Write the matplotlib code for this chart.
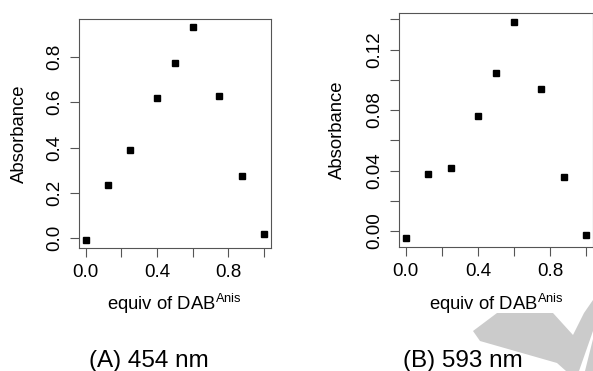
import matplotlib
matplotlib.use("Agg")
import matplotlib.pyplot as plt
from matplotlib.patches import Polygon
from matplotlib.ticker import FixedLocator

plt.rcParams['font.family'] = ['Liberation Sans', 'DejaVu Sans']
plt.rcParams['mathtext.fontset'] = 'custom'
plt.rcParams['mathtext.rm'] = 'Liberation Sans'

# data
equiv = [0.0, 0.125, 0.25, 0.4, 0.5, 0.6, 0.75, 0.875, 1.0]
abs_454 = [-0.006, 0.236, 0.391, 0.620, 0.775, 0.930, 0.627, 0.274, 0.018]
abs_593 = [-0.0046, 0.0379, 0.0418, 0.0762, 0.1048, 0.1383, 0.0940, 0.0361, -0.0026]

x_major = [0.0, 0.4, 0.8]
x_minor = [0.2, 0.6, 1.0]
y_major_a = [0.0, 0.2, 0.4, 0.6, 0.8]
y_major_b = [0.0, 0.04, 0.08, 0.12]
y_minor_b = [0.02, 0.06, 0.10, 0.14]

W, H = 593, 371
fig = plt.figure(figsize=(W / 100, H / 100), dpi=100)

# grey watermark pieces in the lower right corner (pixel coords, y down)
shapes = [
    [(473, 331), (497, 313), (553, 313), (573, 335), (584, 313), (593, 300),
     (593, 331), (579, 371), (566, 371), (557, 363), (480, 341)],
    [(593, 339), (593, 371), (585, 371)],
]
for shape in shapes:
    fig.add_artist(Polygon([(x / W, 1 - y / H) for x, y in shape], closed=True,
                           transform=fig.transFigure, facecolor='#cbcbcb',
                           edgecolor='none', zorder=0))

axes_px = [(78.6, 19, 271.1, 248), (398.5, 13.3, 593.5, 246.7)]
panels = [(abs_454, y_major_a, [], '%.1f', '(A) 454 nm', 149),
          (abs_593, y_major_b, y_minor_b, '%.2f', '(B) 593 nm', 463)]

spine_col = '#555555'
for (x0, y0, x1, y1), (yv, ymaj, ymin, fmt, cap, capx) in zip(axes_px, panels):
    ax = fig.add_axes([x0 / W, 1 - y1 / H, (x1 - x0) / W, (y1 - y0) / H])
    ax.plot(equiv, yv, 's', color='black', markersize=4.6, clip_on=False)
    ax.margins(0.04)

    ax.xaxis.set_major_locator(FixedLocator(x_major))
    ax.xaxis.set_minor_locator(FixedLocator(x_minor))
    ax.set_xticklabels(['%.1f' % v for v in x_major])
    ax.yaxis.set_major_locator(FixedLocator(ymaj))
    ax.yaxis.set_minor_locator(FixedLocator(ymin))
    ax.set_yticklabels([fmt % v for v in ymaj])

    ax.tick_params(which='both', direction='out', length=6.5, width=0.8,
                   color=spine_col, labelsize=13.5)
    ax.tick_params(axis='x', pad=5)
    ax.tick_params(axis='y', pad=4.5, labelrotation=90)
    for lab in ax.get_yticklabels():
        lab.set_va('center')
    for s in ax.spines.values():
        s.set_color(spine_col)
        s.set_linewidth(0.8)

    aw = x1 - x0
    ah = y1 - y0
    ax.text(0.5, -(310 - y1) / ah, r'equiv of DAB$^{\mathregular{Anis}}$',
            transform=ax.transAxes, ha='center', va='baseline', fontsize=13.3)
    lab_x = 19 if x0 < 200 else 337.5
    ax.text((lab_x - x0) / aw, 0.5, 'Absorbance', transform=ax.transAxes,
            rotation=90, ha='center', va='center', fontsize=13.3)

    fig.text(capx / W, (H - 367) / H, cap, ha='center', va='baseline',
             fontsize=17.5)

fig.savefig('out.png', dpi=100)
